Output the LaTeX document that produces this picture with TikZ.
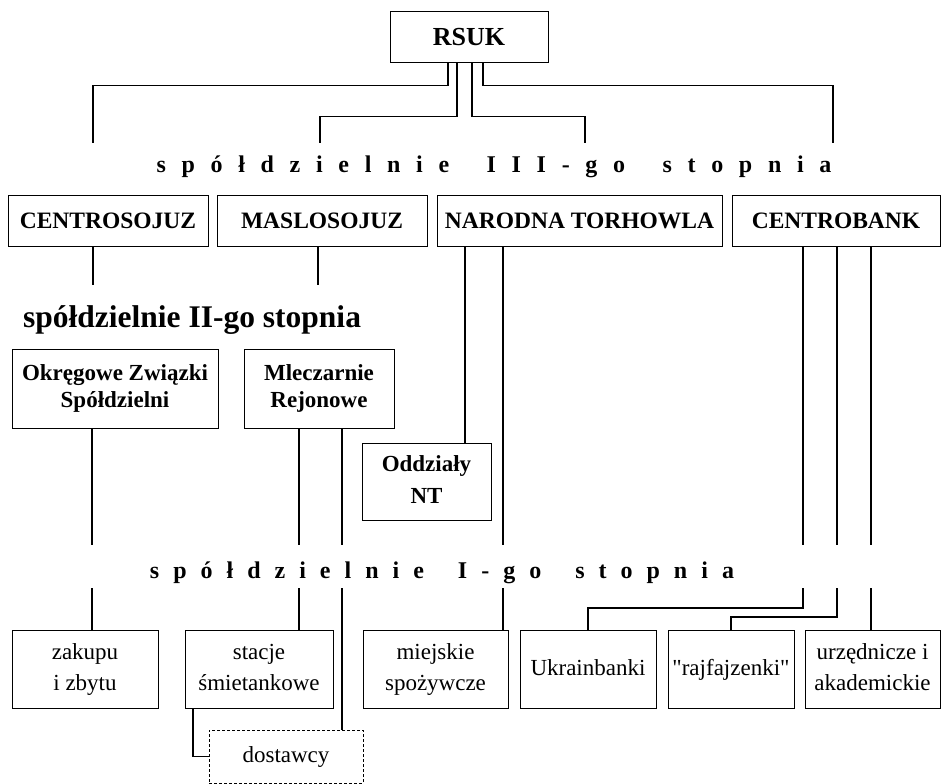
\documentclass[tikz,border=0pt]{standalone}
\usepackage{fontspec}
\setmainfont{Liberation Serif}
\newdimen\spreadgap
\newcommand\spreadtxt[1]{\spreadA#1\relax\unskip}
\def\spreadA#1{\ifx#1\relax\else#1\hskip\spreadgap\relax\expandafter\spreadA\fi}
\tikzset{
  box/.style={draw, line width=1pt, inner sep=0pt, align=center,
    font=\fontsize{23}{31}\selectfont},
  bbox/.style={box, font=\fontsize{23.5}{30}\selectfont\bfseries},
  dbox/.style={box, dashed, dash pattern=on 3pt off 2pt},
  conn/.style={line width=1.8pt},
  ttl/.style={inner sep=0pt, anchor=base, font=\fontsize{24}{24}\selectfont\bfseries},
}
\begin{document}
\begin{tikzpicture}[x=1pt,y=-1pt]
\useasboundingbox (0,0) rectangle (943,784);
% top
\node[bbox, font=\fontsize{26}{26}\selectfont\bfseries, minimum width=158, minimum height=51] (rsuk) at (469,37.5) {RSUK};
% level III title
\node[ttl] (t3) at (494,172) {\spreadgap=15.7pt\spreadtxt{spółdzielnie~III-go~stopnia}};
% level III boxes
\node[bbox, minimum width=200, minimum height=51] (cs) at (108,220.5) {CENTROSOJUZ};
\node[bbox, minimum width=210, minimum height=51] (ms) at (322,220.5) {MASLOSOJUZ};
\node[bbox, minimum width=285, minimum height=51] (nt) at (579.5,220.5) {NARODNA TORHOWLA};
\node[bbox, minimum width=208, minimum height=51] (cb) at (836,220.5) {CENTROBANK};
% level II title
\node[inner sep=0pt, anchor=base west, font=\fontsize{31.5}{31.5}\selectfont\bfseries] (t2) at (23,327) {spółdzielnie II-go stopnia};
% level II boxes
\node[bbox, minimum width=206, minimum height=79, font=\fontsize{23}{27}\selectfont\bfseries] (okr) at (115,388.5) {\strut Okręgowe Związki\\\strut Spółdzielni};
\node[bbox, minimum width=150, minimum height=79, font=\fontsize{23}{27}\selectfont\bfseries] (mle) at (319,388.5) {\strut Mleczarnie\\\strut Rejonowe};
\node[bbox, minimum width=129, minimum height=77, font=\fontsize{23}{32}\selectfont\bfseries] (odd) at (426.5,481.5) {\strut Oddziały\\\strut NT};
% level I title
\node[ttl] (t1) at (442,578) {\spreadgap=14pt\spreadtxt{spółdzielnie~I-go~stopnia}};
% level I boxes
\node[box, minimum width=146, minimum height=78] (zak) at (85,669) {\strut zakupu\\\strut i zbytu};
\node[box, minimum width=148, minimum height=78] (sta) at (259,669) {\strut stacje\\\strut śmietankowe};
\node[box, minimum width=145, minimum height=78] (mie) at (435.5,669) {\strut miejskie\\\strut spożywcze};
\node[box, minimum width=136, minimum height=78] (ukr) at (588,669) {\strut Ukrainbanki};
\node[box, minimum width=126, minimum height=78] (raj) at (731,669) {\strut\textquotedbl rajfajzenki\textquotedbl};
\node[box, minimum width=135, minimum height=78] (urz) at (872.5,669) {\strut urzędnicze i\\\strut akademickie};
\node[dbox, minimum width=154, minimum height=53] (dos) at (286,756.5) {\strut dostawcy};
% coordinates
\coordinate (e1) at (93,143);
\coordinate (e2) at (320,143);
\coordinate (e3) at (585,143);
\coordinate (e4) at (833,143);
\coordinate (f1) at (93,285);
\coordinate (f2) at (318,285);
\coordinate (g1) at (465,0);
\coordinate (g2) at (503,545);
\coordinate (g2b) at (503,588);
\coordinate (h1) at (803,545);
\coordinate (h1b) at (803,588);
\coordinate (h2) at (837,545);
\coordinate (h2b) at (837,588);
\coordinate (h3) at (871,545);
\coordinate (h3b) at (871,588);
\coordinate (i1) at (92,545);
\coordinate (i1b) at (92,588);
\coordinate (i2) at (299,545);
\coordinate (i2b) at (299,588);
\coordinate (i3) at (342,545);
\coordinate (i3b) at (342,588);
% RSUK connectors
\draw[conn] ([xshift=-21pt]rsuk.south) -- ++(0,22) -| (e1);
\draw[conn] ([xshift=-12pt]rsuk.south) -- ++(0,53) -| (e2);
\draw[conn] ([xshift=3pt]rsuk.south) -- ++(0,53) -| (e3);
\draw[conn] ([xshift=14pt]rsuk.south) -- ++(0,22) -| (e4);
% level III connectors
\draw[conn] (cs.south -| f1) -- (f1);
\draw[conn] (ms.south -| f2) -- (f2);
\draw[conn] (nt.south -| g1) -- (odd.north -| g1);
\draw[conn] (nt.south -| g2) -- (g2);
\draw[conn] (g2b) -- (mie.north -| g2b);
\draw[conn] (cb.south -| h1) -- (h1);
\draw[conn] (cb.south -| h2) -- (h2);
\draw[conn] (cb.south -| h3) -- (h3);
\draw[conn] (h1b) -- ++(0,20) -| (ukr.north);
\draw[conn] (h2b) -- ++(0,29) -| (raj.north);
\draw[conn] (h3b) -- (urz.north -| h3b);
% level II connectors
\draw[conn] (okr.south -| i1) -- (i1);
\draw[conn] (i1b) -- (zak.north -| i1b);
\draw[conn] (mle.south -| i2) -- (i2);
\draw[conn] (i2b) -- (sta.north -| i2b);
\draw[conn] (mle.south -| i3) -- (i3);
\draw[conn] (i3b) -- (dos.north -| i3b);
\draw[conn] ([xshift=-66pt]sta.south) |- (dos.west);
\end{tikzpicture}
\end{document}
